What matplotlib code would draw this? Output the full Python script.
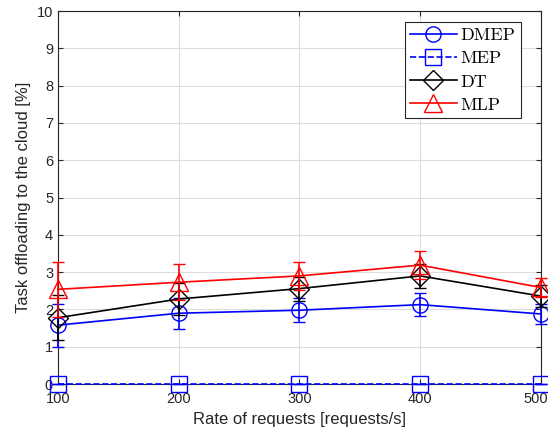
import numpy as np
import matplotlib
matplotlib.use('Agg')
import matplotlib.pyplot as plt
import matplotlib.transforms as mtransforms
from matplotlib.lines import Line2D

# datos
rate = [100, 200, 300, 400, 500]
dmep = [1.58, 1.90, 1.98, 2.13, 1.88]
dmep_err = [0.58, 0.42, 0.32, 0.30, 0.27]
mep = [0, 0, 0, 0, 0]
mep_err = [0, 0, 0, 0, 0]
dt = [1.78, 2.28, 2.56, 2.90, 2.36]
dt_err = [0.60, 0.43, 0.32, 0.33, 0.30]
mlp = [2.54, 2.73, 2.90, 3.19, 2.59]
mlp_err = [0.74, 0.48, 0.37, 0.38, 0.25]

plt.rcParams['font.family'] = ['Liberation Sans', 'DejaVu Sans']

fig = plt.figure(figsize=(5.48, 4.43), dpi=100)
ax = fig.add_axes([0.1058, 0.133, 0.881, 0.842])

kw = dict(capsize=4.3, elinewidth=1.2, linewidth=1.2,
          markerfacecolor='none', markeredgewidth=1.0)
series = [
    (dmep, dmep_err, 'b', 'o', '-', 11, 'DMEP'),
    (mep, mep_err, 'b', 's', '--', 11, 'MEP'),
    (dt, dt_err, 'k', 'D', '-', 10, 'DT'),
    (mlp, mlp_err, 'r', '^', '-', 13, 'MLP'),
]
handles = []
for i, (y, e, c, m, ls, ms, lab) in enumerate(series):
    eb = ax.errorbar(rate, y, yerr=e, color=c, marker=m, linestyle=ls,
                     markersize=ms, zorder=3 + i, **kw)
    for art in [eb[0]] + list(eb[1]) + list(eb[2]):
        art.set_clip_on(False)
    handles.append(Line2D([], [], color=c, marker=m, linestyle=ls,
                          markersize=ms, markerfacecolor='none',
                          linewidth=1.2, label=lab))

ax.set_xlim(100, 500)
ax.set_ylim(0, 10)
ax.set_xticks(rate)
ax.set_yticks(np.arange(0, 11, 1))
ax.grid(True, color='#dddddd', linewidth=0.8)
ax.set_axisbelow(True)
ax.tick_params(direction='in', top=True, right=True, labelsize=10.5,
               colors='#262626', labelcolor='#262626')
ax.tick_params(axis='x', pad=6)
for s in ax.spines.values():
    s.set_color('#262626')
    s.set_linewidth(0.8)
    s.set_zorder(2.5)

# el ultimo label (500) se corre un poco para que no se corte
lab_last = ax.get_xticklabels()[-1]
lab_last.set_transform(lab_last.get_transform() +
                       mtransforms.ScaledTranslation(-5 / 100, 0, fig.dpi_scale_trans))

ax.set_xlabel('Rate of requests [requests/s]', fontsize=12, color='#262626')
ax.set_ylabel('Task offloading to the cloud [%]', fontsize=12, color='#262626')

leg = ax.legend(handles=handles, loc='upper right', bbox_to_anchor=(0.9586, 0.9705),
                prop={'family': 'cmr10', 'size': 13}, fancybox=False,
                framealpha=1, edgecolor='#262626', handlelength=2.6,
                borderaxespad=0, labelspacing=0.42, handletextpad=0.2,
                borderpad=0.3)
leg.get_frame().set_linewidth(0.8)
leg.set_zorder(10)

fig.savefig('out.png', dpi=100)
